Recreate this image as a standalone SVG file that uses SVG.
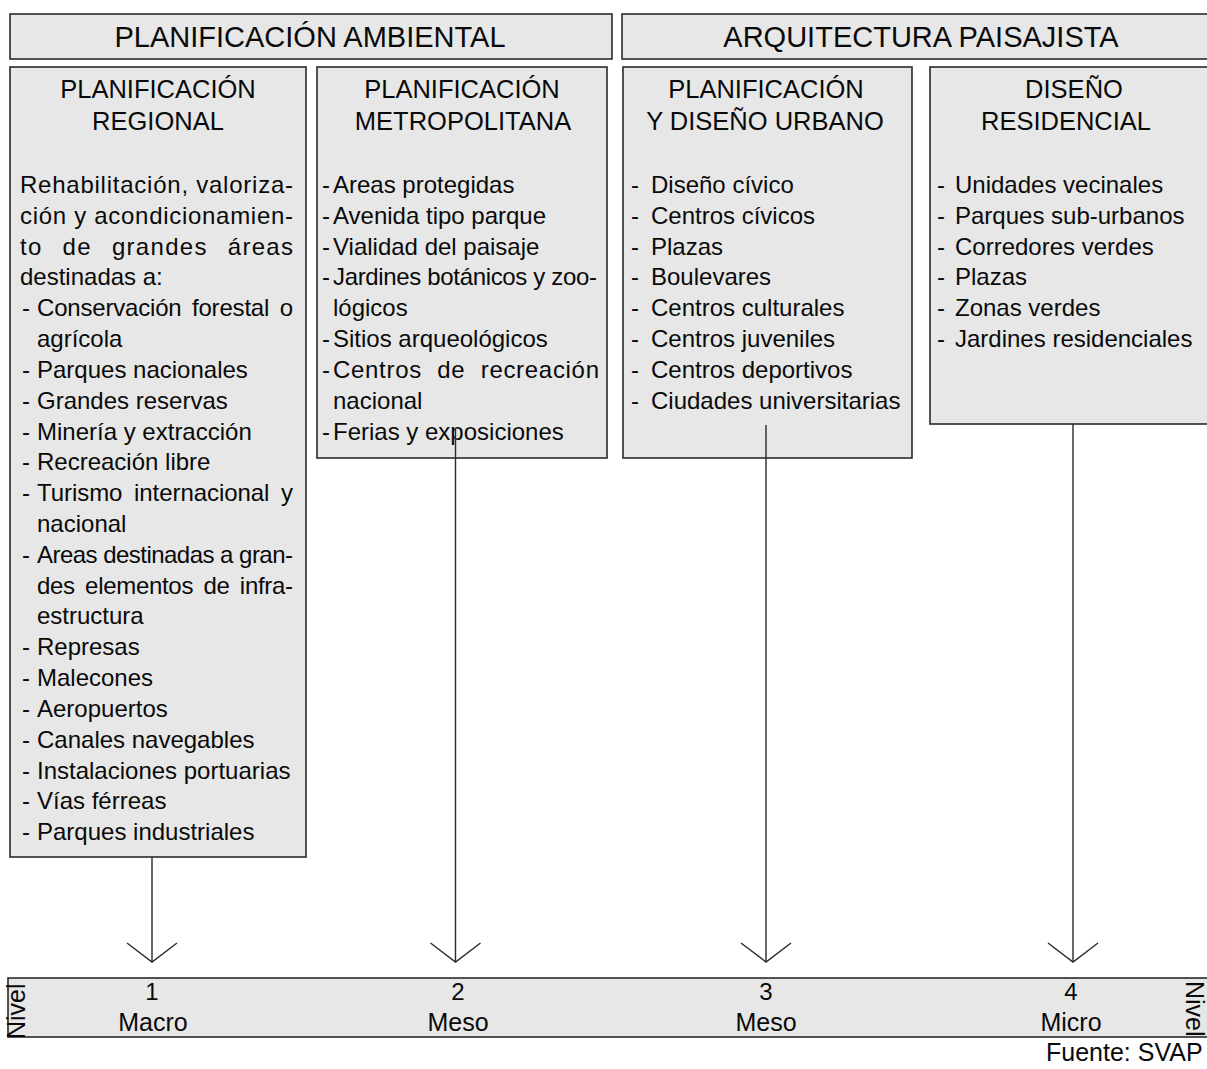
<svg xmlns="http://www.w3.org/2000/svg" width="1207" height="1069" viewBox="0 0 1207 1069">
<style>
.box{fill:#e7e7e7;stroke:#2a2a2a;stroke-width:1.6}
text{font-family:"Liberation Sans",Arial,sans-serif;fill:#0a0a0a}
.ban{font-size:29px;text-anchor:middle}
.ttl{font-size:25.5px;text-anchor:middle}
.it{font-size:24px}
.num{font-size:24px;text-anchor:middle}
.lvl{font-size:25px;text-anchor:middle}
.conn{stroke:#2a2a2a;stroke-width:1.4;fill:none}
</style>
<defs>
<marker id="chev" markerUnits="userSpaceOnUse" markerWidth="60" markerHeight="60" refX="0" refY="0" orient="auto" overflow="visible">
<path d="M-19,-25 L0,0 L-19,25" fill="none" stroke="#2a2a2a" stroke-width="1.4"/>
</marker>
</defs>
<rect width="1207" height="1069" fill="#fff"/>

<g id="banner-ambiental">
<rect class="box" x="10" y="14" width="602" height="45"/>
<text class="ban" x="310" y="47">PLANIFICACIÓN AMBIENTAL</text>
</g>
<g id="banner-paisajista">
<rect class="box" x="622" y="14" width="600" height="45"/>
<text class="ban" x="921" y="47">ARQUITECTURA PAISAJISTA</text>
</g>

<g id="regional">
<rect class="box" x="10" y="67" width="296" height="790"/>
<text class="ttl" x="158" y="98">PLANIFICACIÓN</text>
<text class="ttl" x="158" y="130">REGIONAL</text>
<g class="it">
<text x="20" y="193" textLength="273" lengthAdjust="spacing">Rehabilitación, valoriza-</text>
<text x="20" y="224" textLength="273" lengthAdjust="spacing">ción y acondicionamien-</text>
<text x="20" y="255" textLength="273" lengthAdjust="spacing" word-spacing="12">to de grandes áreas</text>
<text x="20" y="285">destinadas a:</text>
<text x="22" y="316">-</text><text x="37" y="316" textLength="256" lengthAdjust="spacing" word-spacing="4">Conservación forestal o</text>
<text x="37" y="347">agrícola</text>
<text x="22" y="378">-</text><text x="37" y="378">Parques nacionales</text>
<text x="22" y="409">-</text><text x="37" y="409">Grandes reservas</text>
<text x="22" y="440">-</text><text x="37" y="440">Minería y extracción</text>
<text x="22" y="470">-</text><text x="37" y="470">Recreación libre</text>
<text x="22" y="501">-</text><text x="37" y="501" textLength="256" lengthAdjust="spacing" word-spacing="5">Turismo internacional y</text>
<text x="37" y="532">nacional</text>
<text x="22" y="563">-</text><text x="37" y="563" textLength="256" lengthAdjust="spacing">Areas destinadas a gran-</text>
<text x="37" y="594" textLength="256" lengthAdjust="spacing" word-spacing="4">des elementos de infra-</text>
<text x="37" y="624">estructura</text>
<text x="22" y="655">-</text><text x="37" y="655">Represas</text>
<text x="22" y="686">-</text><text x="37" y="686">Malecones</text>
<text x="22" y="717">-</text><text x="37" y="717">Aeropuertos</text>
<text x="22" y="748">-</text><text x="37" y="748">Canales navegables</text>
<text x="22" y="779">-</text><text x="37" y="779">Instalaciones portuarias</text>
<text x="22" y="809">-</text><text x="37" y="809">Vías férreas</text>
<text x="22" y="840">-</text><text x="37" y="840">Parques industriales</text>
</g>
</g>

<g id="metropolitana">
<rect class="box" x="317" y="67" width="290" height="391"/>
<text class="ttl" x="462" y="98">PLANIFICACIÓN</text>
<text class="ttl" x="463" y="130">METROPOLITANA</text>
<g class="it">
<text x="322" y="193">-</text><text x="333" y="193">Areas protegidas</text>
<text x="322" y="224">-</text><text x="333" y="224">Avenida tipo parque</text>
<text x="322" y="255">-</text><text x="333" y="255">Vialidad del paisaje</text>
<text x="322" y="285">-</text><text x="333" y="285" textLength="264" lengthAdjust="spacing">Jardines botánicos y zoo-</text>
<text x="333" y="316">lógicos</text>
<text x="322" y="347">-</text><text x="333" y="347">Sitios arqueológicos</text>
<text x="322" y="378">-</text><text x="333" y="378" textLength="266" lengthAdjust="spacing" word-spacing="8">Centros de recreación</text>
<text x="333" y="409">nacional</text>
<text x="322" y="440">-</text><text x="333" y="440">Ferias y exposiciones</text>
</g>
</g>

<g id="urbano">
<rect class="box" x="623" y="67" width="289" height="391"/>
<text class="ttl" x="766" y="98">PLANIFICACIÓN</text>
<text class="ttl" x="765" y="130">Y DISEÑO URBANO</text>
<g class="it">
<text x="631" y="193">-</text><text x="651" y="193">Diseño cívico</text>
<text x="631" y="224">-</text><text x="651" y="224">Centros cívicos</text>
<text x="631" y="255">-</text><text x="651" y="255">Plazas</text>
<text x="631" y="285">-</text><text x="651" y="285">Boulevares</text>
<text x="631" y="316">-</text><text x="651" y="316">Centros culturales</text>
<text x="631" y="347">-</text><text x="651" y="347">Centros juveniles</text>
<text x="631" y="378">-</text><text x="651" y="378">Centros deportivos</text>
<text x="631" y="409">-</text><text x="651" y="409">Ciudades universitarias</text>
</g>
</g>

<g id="residencial">
<rect class="box" x="930" y="67" width="290" height="357"/>
<text class="ttl" x="1074" y="98">DISEÑO</text>
<text class="ttl" x="1066" y="130">RESIDENCIAL</text>
<g class="it">
<text x="937" y="193">-</text><text x="955" y="193">Unidades vecinales</text>
<text x="937" y="224">-</text><text x="955" y="224">Parques sub-urbanos</text>
<text x="937" y="255">-</text><text x="955" y="255">Corredores verdes</text>
<text x="937" y="285">-</text><text x="955" y="285">Plazas</text>
<text x="937" y="316">-</text><text x="955" y="316">Zonas verdes</text>
<text x="937" y="347">-</text><text x="955" y="347">Jardines residenciales</text>
</g>
</g>

<g id="connectors">
<line class="conn" x1="152" y1="857" x2="152" y2="962" marker-end="url(#chev)"/>
<line class="conn" x1="455.5" y1="428" x2="455.5" y2="962" marker-end="url(#chev)"/>
<line class="conn" x1="766" y1="425" x2="766" y2="962" marker-end="url(#chev)"/>
<line class="conn" x1="1073" y1="424" x2="1073" y2="962" marker-end="url(#chev)"/>
</g>

<g id="niveles">
<rect class="box" x="8" y="978" width="1215" height="59"/>
<text x="25" y="1039" font-size="25" transform="rotate(-90 25 1039)">Nivel</text>
<text x="1186" y="981" font-size="25" transform="rotate(90 1186 981)">Nivel</text>
<text class="num" x="152" y="1000">1</text>
<text class="lvl" x="153" y="1031">Macro</text>
<text class="num" x="458" y="1000">2</text>
<text class="lvl" x="458" y="1031">Meso</text>
<text class="num" x="766" y="1000">3</text>
<text class="lvl" x="766" y="1031">Meso</text>
<text class="num" x="1071" y="1000">4</text>
<text class="lvl" x="1071" y="1031">Micro</text>
</g>
<text id="fuente" x="1046" y="1061" font-size="25">Fuente: SVAP</text>
</svg>
